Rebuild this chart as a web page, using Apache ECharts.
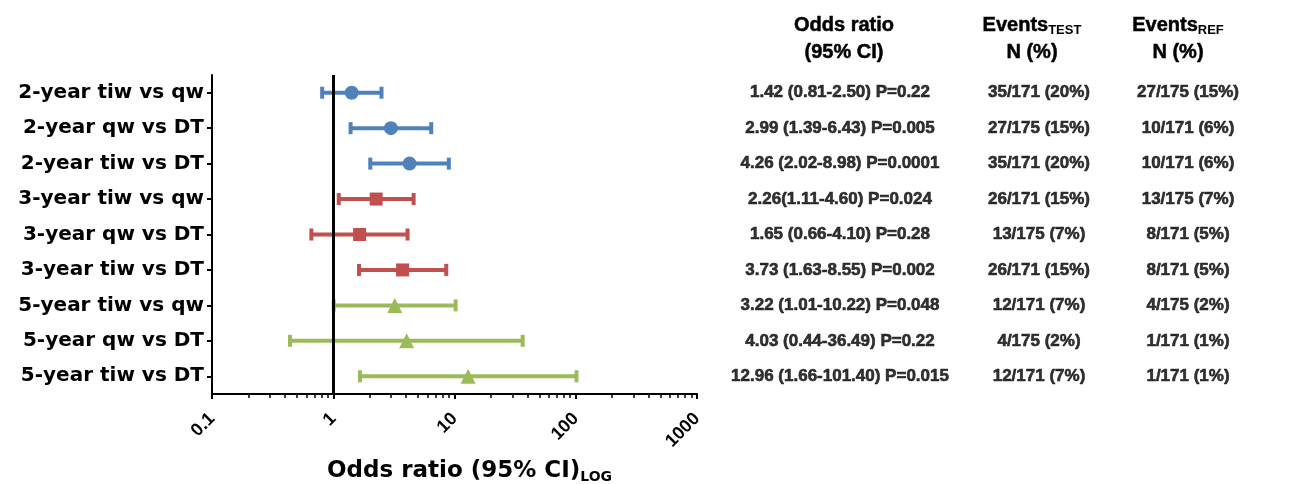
<!DOCTYPE html>
<html>
<head>
<meta charset="utf-8">
<script src="https://cdn.jsdelivr.net/npm/echarts@6/dist/echarts.min.js"></script>
<style>
html,body{margin:0;padding:0;background:#fff;}
#chart{width:1316px;height:484px;}
</style>
</head>
<body>
<div id="chart"></div>
<script>
const categories = ['2-year tiw vs qw', '2-year qw vs DT', '2-year tiw vs DT', '3-year tiw vs qw', '3-year qw vs DT', '3-year tiw vs DT', '5-year tiw vs qw', '5-year qw vs DT', '5-year tiw vs DT'];
const oddsRatio = [1.42, 2.99, 4.26, 2.26, 1.65, 3.73, 3.22, 4.03, 12.96];
const ciLow = [0.81, 1.39, 2.02, 1.11, 0.66, 1.63, 1.01, 0.44, 1.66];
const ciHigh = [2.50, 6.43, 8.98, 4.60, 4.10, 8.55, 10.22, 36.49, 101.40];
const orText = ['1.42 (0.81-2.50) P=0.22', '2.99 (1.39-6.43) P=0.005', '4.26 (2.02-8.98) P=0.0001', '2.26(1.11-4.60) P=0.024', '1.65 (0.66-4.10) P=0.28', '3.73 (1.63-8.55) P=0.002', '3.22 (1.01-10.22) P=0.048', '4.03 (0.44-36.49) P=0.22', '12.96 (1.66-101.40) P=0.015'];
const eventsTest = ['35/171 (20%)', '27/175 (15%)', '35/171 (20%)', '26/171 (15%)', '13/175 (7%)', '26/171 (15%)', '12/171 (7%)', '4/175 (2%)', '12/171 (7%)'];
const eventsRef = ['27/175 (15%)', '10/171 (6%)', '10/171 (6%)', '13/175 (7%)', '8/171 (5%)', '8/171 (5%)', '4/175 (2%)', '1/171 (1%)', '1/171 (1%)'];
const rowGroup = [0, 0, 0, 1, 1, 1, 2, 2, 2];
const groupNames = ['2-year', '3-year', '5-year'];
const xTicks = [0.1, 1, 10, 100, 1000];
const xMinorTicks = [0.2, 0.3, 0.4, 0.5, 0.6, 0.7, 0.8, 0.9, 2, 3, 4, 5, 6, 7, 8, 9, 20, 30, 40, 50, 60, 70, 80, 90, 200, 300, 400, 500, 600, 700, 800, 900];
const referenceOR = 1;

const groupColors = ['#4f81bd', '#c0504d', '#9bbb59'];
const groupSymbols = ['circle', 'rect', 'triangle'];
const groupSymbolSizes = [14, 13, 15];

const ARIAL = 'Liberation Sans, Arial, sans-serif';
const WIDE = 'DejaVu Sans, Verdana, sans-serif';

const chart = echarts.init(document.getElementById('chart'));

function errorBarRender(color) {
  return function (params, api) {
    const y = api.value(2);
    const p1 = api.coord([api.value(0), y]);
    const p2 = api.coord([api.value(1), y]);
    const cap = 6;
    const st = { stroke: color, lineWidth: 4 };
    return {
      type: 'group',
      children: [
        { type: 'line', shape: { x1: p1[0], y1: p1[1], x2: p2[0], y2: p2[1] }, style: st },
        { type: 'line', shape: { x1: p1[0], y1: p1[1] - cap, x2: p1[0], y2: p1[1] + cap }, style: st },
        { type: 'line', shape: { x1: p2[0], y1: p2[1] - cap, x2: p2[0], y2: p2[1] + cap }, style: st }
      ]
    };
  };
}

const series = [];
groupNames.forEach(function (g, gi) {
  const barData = [];
  const ptData = [];
  categories.forEach(function (c, i) {
    if (rowGroup[i] === gi) {
      barData.push([ciLow[i], ciHigh[i], i]);
      ptData.push([oddsRatio[i], i]);
    }
  });
  series.push({
    name: g + ' CI', type: 'custom', xAxisIndex: 0, yAxisIndex: 0, z: 3,
    renderItem: errorBarRender(groupColors[gi]),
    encode: { x: [0, 1], y: 2 },
    data: barData, silent: true
  });
  series.push({
    name: g, type: 'scatter', xAxisIndex: 0, yAxisIndex: 0, z: 4,
    symbol: groupSymbols[gi], symbolSize: groupSymbolSizes[gi],
    itemStyle: { color: groupColors[gi], opacity: 1 },
    data: ptData, silent: true
  });
});

// reference line at OR = 1
series.push({
  type: 'scatter', xAxisIndex: 0, yAxisIndex: 0, data: [], z: 5,
  markLine: {
    silent: true, symbol: 'none', animation: false,
    label: { show: false },
    lineStyle: { color: '#000', width: 3, type: 'solid' },
    data: [{ xAxis: referenceOR }]
  }
});

// table columns
const tableCols = [orText, eventsTest, eventsRef];
tableCols.forEach(function (col, ci) {
  series.push({
    type: 'scatter', xAxisIndex: 2 + ci, yAxisIndex: 1 + ci,
    symbolSize: 1, itemStyle: { color: 'rgba(0,0,0,0)' },
    data: categories.map(function (c, i) { return [0, i]; }),
    label: {
      show: true, position: 'inside',
      formatter: function (p) { return col[p.dataIndex]; },
      color: '#000', fontFamily: ARIAL, fontWeight: 'bold', fontSize: 17,
      textBorderColor: '#000', textBorderWidth: 0.6
    },
    silent: true
  });
});

const headRich = {
  b: { fontFamily: ARIAL, fontWeight: 'bold', fontSize: 20, color: '#000', lineHeight: 27, align: 'center', textBorderColor: '#000', textBorderWidth: 0.5 },
  s: { fontFamily: ARIAL, fontWeight: 'bold', fontSize: 13, color: '#000', lineHeight: 27, align: 'center', padding: [10, 0, 0, 0] }
};

const gridBase = { outerBoundsMode: 'none', containLabel: false };
const tableGrids = [
  Object.assign({ left: 740, top: 75, width: 200, height: 319 }, gridBase),
  Object.assign({ left: 989, top: 75, width: 100, height: 319 }, gridBase),
  Object.assign({ left: 1138, top: 75, width: 100, height: 319 }, gridBase)
];

const option = {
  animation: false,
  backgroundColor: '#fff',
  title: [
    { text: '{b|Odds ratio}\n{b|(95% CI)}', left: 839, top: 7, textAlign: 'center', textStyle: { rich: headRich } },
    { text: '{b|Events}{s|TEST}\n{b|N (%)}', left: 1027, top: 7, textAlign: 'center', textStyle: { rich: headRich } },
    { text: '{b|Events}{s|REF}\n{b|N (%)}', left: 1173, top: 7, textAlign: 'center', textStyle: { rich: headRich } }
  ],
  grid: [Object.assign({ left: 212, top: 75, width: 485, height: 319 }, gridBase)].concat(tableGrids),
  xAxis: [
    {
      type: 'log', gridIndex: 0, logBase: 10, min: 0.1, max: 1000,
      axisLine: { show: true, lineStyle: { color: '#000', width: 2 } },
      axisTick: { show: true, length: 5, lineStyle: { color: '#000', width: 2 } },
      splitLine: { show: false },
      minorTick: { show: false },
      axisLabel: {
        show: true, rotate: 45, margin: 22, color: '#000',
        fontFamily: ARIAL, fontWeight: 'bold', fontSize: 18,
        customValues: xTicks,
        formatter: function (v) { return String(v); }
      },
      name: '{a|Odds ratio (95% CI)}{s|LOG}',
      nameLocation: 'middle', nameGap: 62,
      nameTextStyle: {
        padding: [0, 0, 0, 30],
        rich: {
          a: { fontFamily: WIDE, fontWeight: 'bold', fontSize: 23, color: '#000', lineHeight: 30 },
          s: { fontFamily: WIDE, fontWeight: 'bold', fontSize: 14, color: '#000', lineHeight: 30, padding: [13, 0, 0, 0] }
        }
      }
    },
    {
      type: 'log', gridIndex: 0, logBase: 10, min: 0.1, max: 1000, position: 'bottom',
      axisLine: { show: false },
      axisTick: { show: true, length: 4, customValues: xMinorTicks, lineStyle: { color: '#000', width: 1.5 } },
      axisLabel: { show: false },
      splitLine: { show: false }
    },
    { type: 'category', gridIndex: 1, data: ['c'], show: false },
    { type: 'category', gridIndex: 2, data: ['c'], show: false },
    { type: 'category', gridIndex: 3, data: ['c'], show: false }
  ],
  yAxis: [
    {
      type: 'category', gridIndex: 0, inverse: true, data: categories,
      axisLine: { show: true, lineStyle: { color: '#000', width: 2 } },
      axisTick: { show: true, alignWithLabel: true, length: 5, lineStyle: { color: '#000', width: 2 } },
      axisLabel: { margin: 8, color: '#000', fontFamily: WIDE, fontWeight: 'bold', fontSize: 20 },
      splitLine: { show: false }
    },
    { type: 'category', gridIndex: 1, inverse: true, data: categories, show: false },
    { type: 'category', gridIndex: 2, inverse: true, data: categories, show: false },
    { type: 'category', gridIndex: 3, inverse: true, data: categories, show: false }
  ],
  series: series
};
chart.setOption(option);
</script>
</body>
</html>
